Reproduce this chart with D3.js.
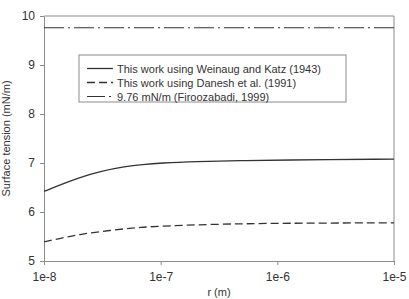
<!DOCTYPE html>
<html>
<head>
<meta charset="utf-8">
<script src="https://cdn.jsdelivr.net/npm/d3@7"></script>
<style>
  html, body { margin: 0; padding: 0; background: #fff; }
  svg { display: block; font-family: "Liberation Sans", Arial, sans-serif; }
</style>
</head>
<body>
<svg id="chart" width="409" height="299"></svg>
<script>
// Data
const radius = [1e-8, 1.5e-8, 2e-8, 3e-8, 5e-8, 7e-8, 1e-7, 2e-7, 5e-7, 1e-6, 1e-5];
const weinaug = [6.42, 6.59, 6.70, 6.83, 6.93, 6.97, 7.00, 7.03, 7.05, 7.06, 7.08];
const danesh = [5.39, 5.48, 5.54, 5.60, 5.66, 5.69, 5.71, 5.74, 5.76, 5.77, 5.78];
const firoozabadi = 9.76;
const xTicks = [1e-8, 1e-7, 1e-6, 1e-5];
const yTicks = [5, 6, 7, 8, 9, 10];
const legendLabels = [
  "This work using Weinaug and Katz (1943)",
  "This work using Danesh et al. (1991)",
  "9.76 mN/m (Firoozabadi, 1999)"
];

const margin = { top: 16, right: 15, bottom: 38, left: 44 };
const width = 409 - margin.left - margin.right;
const height = 299 - margin.top - margin.bottom;

const svg = d3.select("#chart")
  .append("g")
  .attr("transform", `translate(${margin.left},${margin.top})`);

const x = d3.scaleLog().domain([1e-8, 1e-5]).range([0, width]);
const y = d3.scaleLinear().domain([5, 10]).range([height, 0]);

const axisColor = "#8c8c8c";
const textColor = "#333";

// frame (top and right)
svg.append("path")
  .attr("d", `M0,0H${width}V${height}`)
  .attr("fill", "none")
  .attr("stroke", axisColor);

// X axis
const gx = svg.append("g")
  .attr("transform", `translate(0,${height})`)
  .call(d3.axisBottom(x).tickValues(xTicks).tickSize(4).tickSizeOuter(0)
    .tickFormat(d => "1e" + Math.round(Math.log10(d))));
gx.select(".domain").attr("stroke", axisColor);
gx.selectAll(".tick line").attr("stroke", axisColor);
gx.selectAll("text").attr("fill", textColor).style("font-size", "12px").attr("dy", "1.05em");

// Y axis
const gy = svg.append("g")
  .call(d3.axisLeft(y).tickValues(yTicks).tickSize(4).tickSizeOuter(0)
    .tickFormat(d3.format("d")));
gy.select(".domain").attr("stroke", axisColor);
gy.selectAll(".tick line").attr("stroke", axisColor);
gy.selectAll("text").attr("fill", textColor).style("font-size", "12px").attr("x", -9);

// axis titles
svg.append("text")
  .attr("x", width / 2)
  .attr("y", height + 35)
  .attr("text-anchor", "middle")
  .attr("fill", textColor)
  .style("font-size", "11px")
  .text("r (m)");

svg.append("text")
  .attr("transform", `translate(${-margin.left + 10},${height / 2}) rotate(-90)`)
  .attr("text-anchor", "middle")
  .attr("fill", textColor)
  .style("font-size", "11px")
  .text("Surface tension (mN/m)");

// lines
const line = d3.line()
  .x(d => x(d[0]))
  .y(d => y(d[1]))
  .curve(d3.curveBasis);

const lineColor = "#333";
const styles = [
  { dash: null, width: 1.3 },
  { dash: "8,4", width: 1.3 },
  { dash: "20,4,2,4", width: 1.1 }
];

svg.append("path")
  .datum(radius.map((r, i) => [r, weinaug[i]]))
  .attr("d", line)
  .attr("fill", "none")
  .attr("stroke", lineColor)
  .attr("stroke-width", styles[0].width);

svg.append("path")
  .datum(radius.map((r, i) => [r, danesh[i]]))
  .attr("d", line)
  .attr("fill", "none")
  .attr("stroke", lineColor)
  .attr("stroke-width", styles[1].width)
  .attr("stroke-dasharray", styles[1].dash);

svg.append("path")
  .datum([[1e-8, firoozabadi], [1e-5, firoozabadi]])
  .attr("d", line)
  .attr("fill", "none")
  .attr("stroke", lineColor)
  .attr("stroke-width", styles[2].width)
  .attr("stroke-dasharray", styles[2].dash);

// legend
const legend = svg.append("g").attr("transform", "translate(35,39)");
legend.append("rect")
  .attr("x", 0).attr("y", 0)
  .attr("width", 267).attr("height", 47)
  .attr("fill", "#fff")
  .attr("stroke", axisColor);

legendLabels.forEach((label, i) => {
  const ly = 13.5 + i * 14;
  legend.append("line")
    .attr("x1", 8).attr("x2", 34)
    .attr("y1", ly).attr("y2", ly)
    .attr("stroke", lineColor)
    .attr("stroke-width", styles[i].width)
    .attr("stroke-dasharray", i === 2 ? "18,4,2,4" : styles[i].dash);
  legend.append("text")
    .attr("x", 38)
    .attr("y", ly + 4)
    .attr("fill", textColor)
    .style("font-size", "11px")
    .text(label);
});
</script>
</body>
</html>
